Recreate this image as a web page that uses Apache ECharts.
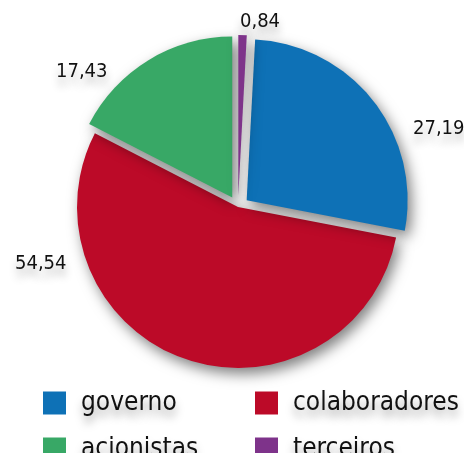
<!DOCTYPE html>
<html>
<head>
<meta charset="utf-8">
<script src="https://cdn.jsdelivr.net/npm/echarts@6/dist/echarts.min.js"></script>
<style>
  html, body { margin: 0; padding: 0; background: #ffffff; }
  #chart { width: 464px; height: 453px; }
</style>
</head>
<body>
<div id="chart"></div>
<script>
// Distribution shares (%)
const categories = ['governo', 'colaboradores', 'acionistas', 'terceiros'];
const values = [27.19, 54.54, 17.43, 0.84];
const colors = ['#0e71b6', '#bc0a28', '#38a866', '#7e338a'];
// Slices pulled out from the centre
const pulledOut = [true, false, true, true];
// Value label anchors (left edge, vertical middle), in pixels
const labelAnchors = [[413, 129], [15, 264], [56, 72], [240, 22]];

const fontFamily = '"DejaVu Sans Condensed", Lato, sans-serif';
const pieCenter = [238, 207];
const pieRadius = 161;

// The last slice (terceiros) ends exactly at 12 o'clock
const total = values.reduce((s, v) => s + v, 0);
const startAngle = 90 - 360 * values[values.length - 1] / total;

const chart = echarts.init(document.getElementById('chart'), null, { renderer: 'canvas' });

const sliceData = categories.map((name, i) => ({
  name: name,
  value: values[i],
  selected: pulledOut[i],
  itemStyle: { color: colors[i] },
  select: { itemStyle: { color: colors[i] } }
}));

const labelData = categories.map((name, i) => ({ name: name, value: values[i] }));

const legendText = {
  fontFamily: fontFamily,
  fontSize: 26,
  color: '#111111',
  lineHeight: 23,
  padding: [0, 0, 0, 10],
  textShadowColor: 'rgba(0,0,0,0.35)',
  textShadowBlur: 8,
  textShadowOffsetY: 7
};

const legendBase = {
  orient: 'vertical',
  top: 390,
  height: 120,
  padding: 0,
  icon: 'rect',
  itemWidth: 23,
  itemHeight: 23,
  itemGap: 20,
  selectedMode: false,
  textStyle: legendText
};

chart.setOption({
  animation: false,
  backgroundColor: '#ffffff',
  legend: [
    Object.assign({}, legendBase, { left: 43, data: [categories[0], categories[2]] }),
    Object.assign({}, legendBase, { left: 255, data: [categories[1], categories[3]] })
  ],
  series: [
    {
      // coloured slices
      type: 'pie',
      center: pieCenter,
      radius: [0, pieRadius],
      startAngle: startAngle,
      clockwise: true,
      selectedMode: 'multiple',
      selectedOffset: 11,
      silent: true,
      itemStyle: {
        borderWidth: 0,
        shadowColor: 'rgba(0,0,0,0.5)',
        shadowBlur: 14,
        shadowOffsetX: 4,
        shadowOffsetY: 6
      },
      label: { show: false },
      labelLine: { show: false },
      data: sliceData
    },
    {
      // value labels
      type: 'pie',
      center: pieCenter,
      radius: [0, pieRadius],
      startAngle: startAngle,
      clockwise: true,
      silent: true,
      legendHoverLink: false,
      itemStyle: { color: 'rgba(0,0,0,0)', borderWidth: 0 },
      label: {
        show: true,
        position: 'outside',
        overflow: 'none',
        fontFamily: fontFamily,
        fontSize: 20,
        color: '#111111',
        textShadowColor: 'rgba(0,0,0,0.3)',
        textShadowBlur: 8,
        textShadowOffsetY: 8,
        formatter: (p) => p.value.toFixed(2).replace('.', ',')
      },
      labelLine: { show: false },
      labelLayout: (params) => {
        const a = labelAnchors[params.dataIndex];
        return { x: a[0], y: a[1], align: 'left', verticalAlign: 'middle' };
      },
      data: labelData
    }
  ]
});
</script>
</body>
</html>
